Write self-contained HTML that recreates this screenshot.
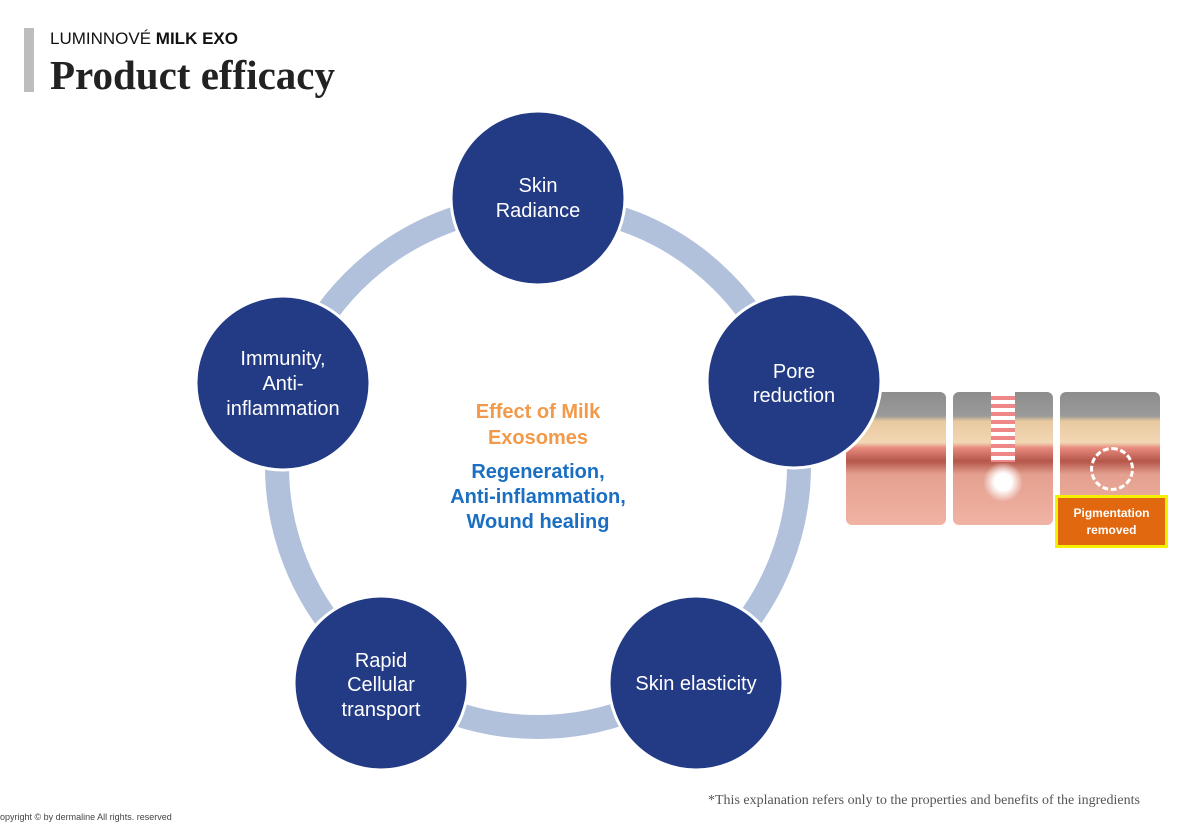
<!DOCTYPE html>
<html><head><meta charset="utf-8"><style>
body{margin:0;width:1180px;height:825px;background:#fff;position:relative;overflow:hidden;font-family:"Liberation Sans",sans-serif}
.bar{position:absolute;left:24px;top:28px;width:10px;height:64px;background:#bdbdbd}
.sub{position:absolute;left:50px;top:29px;font-size:17px;color:#111}
.title{position:absolute;left:50px;top:51px;font-family:"Liberation Serif",serif;font-weight:bold;font-size:41px;color:#222}
.panel{position:absolute;top:392px;width:100px;height:133px;border-radius:6px;overflow:hidden;background:linear-gradient(#8d8d8d 0,#9a9a9a 18%,#e8c9a0 22%,#f2d7b4 38%,#e78b7d 42%,#b5564a 52%,#e4a08f 62%,#f0b3a4 100%)}
.foot{position:absolute;left:0;top:812px;font-size:9px;color:#444}
.note{position:absolute;left:708px;top:793px;font-family:"Liberation Serif",serif;font-size:14px;color:#555}
</style></head><body>
<div class="bar"></div>
<div class="sub">LUMINNOVÉ <b>MILK EXO</b></div>
<div class="title">Product efficacy</div>
<div class="panel" style="left:846px"></div>
<div class="panel" style="left:953px"><div style="position:absolute;left:38px;top:0;width:24px;height:70px;background:repeating-linear-gradient(#fff 0 4px,#e88 4px 8px)"></div><div style="position:absolute;left:30px;top:70px;width:40px;height:40px;border-radius:50%;background:radial-gradient(#fff 30%,rgba(255,240,200,0) 70%)"></div></div>
<div class="panel" style="left:1060px"><div style="position:absolute;left:30px;top:55px;width:38px;height:38px;border-radius:50%;border:3px dashed #fff"></div></div>
<div style="position:absolute;left:1055px;top:495px;width:107px;height:47px;background:#e2680f;border:3px solid #f5f000;color:#fff;font-weight:bold;font-size:12px;text-align:center;line-height:17px;display:flex;align-items:center;justify-content:center">Pigmentation<br>removed</div>
<svg width="1180" height="825" style="position:absolute;left:0;top:0">
<circle cx="538" cy="466" r="261" fill="none" stroke="#b1c1dc" stroke-width="24"/>
<g fill="#233a85" stroke="#fff" stroke-width="3">
<circle cx="538" cy="198" r="87"/><circle cx="794" cy="381" r="87"/><circle cx="696" cy="683" r="87"/><circle cx="381" cy="683" r="87"/><circle cx="283" cy="383" r="87"/>
</g>
<g fill="#fff" font-size="20" text-anchor="middle" font-family="Liberation Sans">
<text x="538" y="192">Skin</text><text x="538" y="217">Radiance</text>
<text x="794" y="378">Pore</text><text x="794" y="402">reduction</text>
<text x="696" y="690">Skin elasticity</text>
<text x="381" y="667">Rapid</text><text x="381" y="691">Cellular</text><text x="381" y="716">transport</text>
<text x="283" y="365">Immunity,</text><text x="283" y="390">Anti-</text><text x="283" y="415">inflammation</text>
</g>
<g font-size="20" font-weight="bold" text-anchor="middle" font-family="Liberation Sans">
<text x="538" y="418" fill="#f29a4a">Effect of Milk</text><text x="538" y="444" fill="#f29a4a">Exosomes</text>
<text x="538" y="478" fill="#1a6fc2">Regeneration,</text><text x="538" y="503" fill="#1a6fc2">Anti-inflammation,</text><text x="538" y="528" fill="#1a6fc2">Wound healing</text>
</g>
</svg>
<div class="note">*This explanation refers only to the properties and benefits of the ingredients</div>
<div class="foot">opyright © by dermaline All rights. reserved</div>
</body></html>
